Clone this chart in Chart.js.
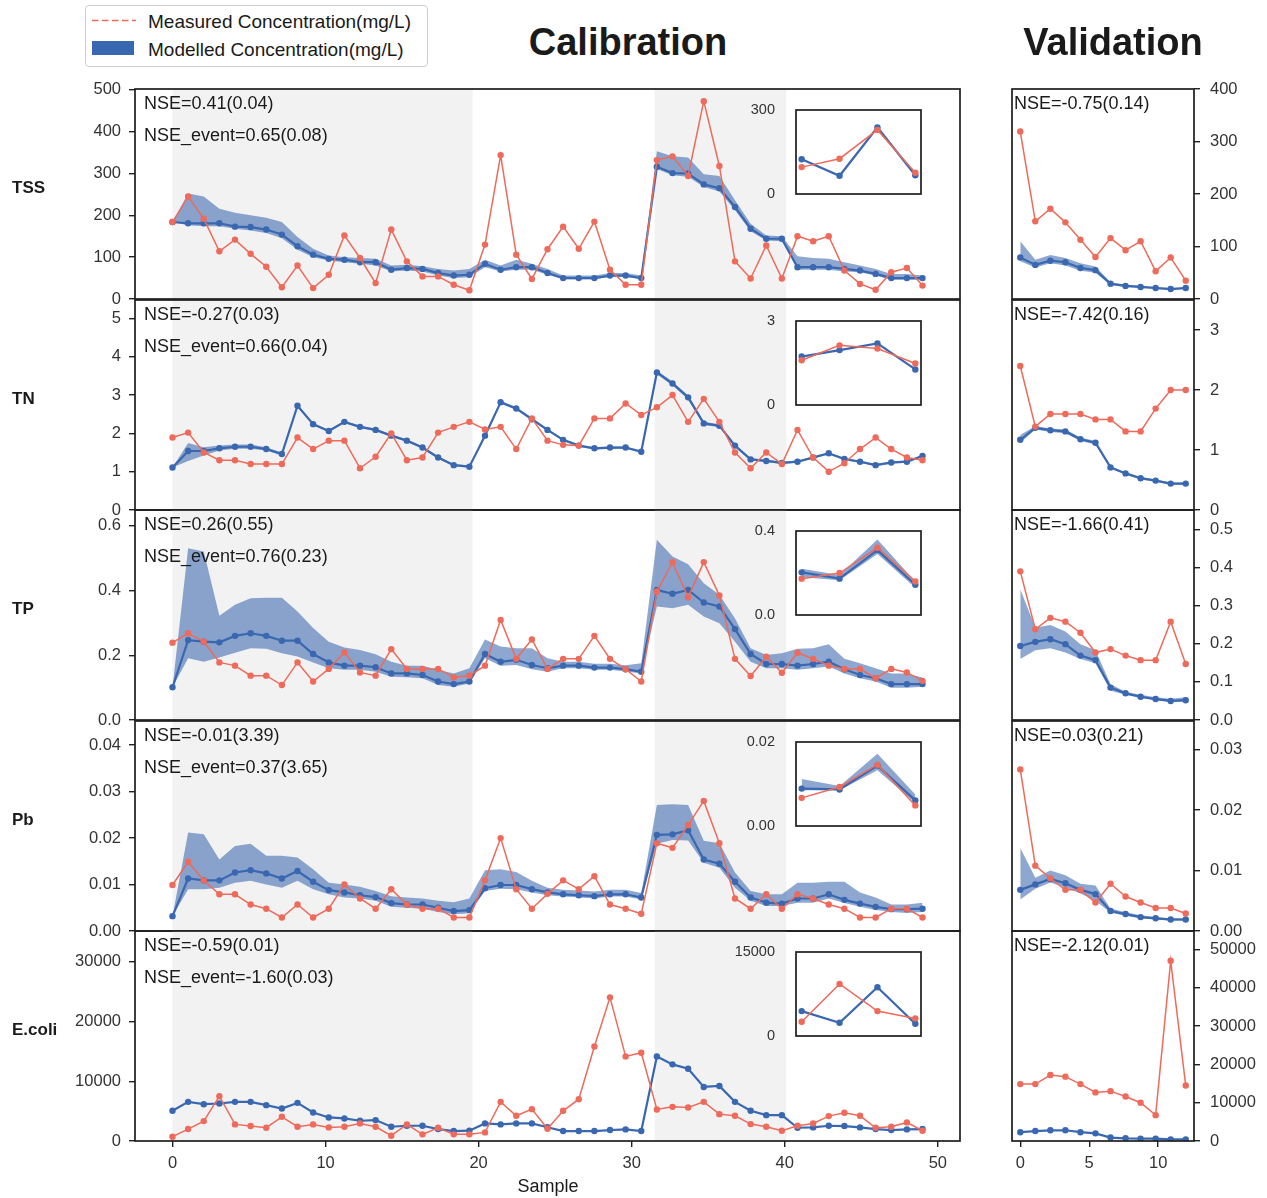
<!DOCTYPE html>
<html lang="en">
<head>
<meta charset="utf-8">
<title>Calibration / Validation</title>
<script src="https://cdn.jsdelivr.net/npm/chart.js@4.4.1/dist/chart.umd.min.js"></script>
<style>
	body { margin: 0; background: #fff; }
	#pagina { position: relative; width: 1267px; height: 1198px; background: #fff; overflow: hidden; font-family: "Liberation Sans", Arial, sans-serif; color: #1a1a1a; }
	#pagina canvas { position: absolute; }
	.texto { position: absolute; white-space: nowrap; line-height: 1; transform: translateY(-50%); }
	.legenda { position: absolute; left: 85px; top: 5px; width: 343px; height: 62px; box-sizing: border-box; border: 1px solid #cfcfcf; border-radius: 4px; background: #fff; }
</style>
</head>
<body>
<div id="pagina"></div>
<script>
// ---- calibration data (49 samples) ----
const tssObs = [184,245,192,114,142,108,77,28,80,26, 58,152,98,38,166,90,54,54,34,21, 130,344,106,48,119, 173,120,185,70,34,34, 332,341,294,473,318,90,49,128,49, 150,138,150,68,36,22,64,74,32]
const tssMod = [184,181,181,181,173,172,166,154,126,106, 96,94,88,88,70,74,72,62,56,58, 84,70,76,76,62, 50,50,50,56,56,50, 316,301,300,274,265,220,168,144,144, 76,76,76,72,68,60,50,50,50]
const tssUp = [184,252,245,216,206,200,194,184,148,120, 104,100,98,96,80,82,78,72,68,72, 94,80,94,84,72, 56,56,56,62,62,56, 353,341,338,298,294,236,180,152,150, 102,98,96,88,80,72,60,60,56]
const tssLo = [184,176,174,174,168,164,158,145,118,100, 92,88,84,80,66,68,66,56,50,52, 76,66,70,70,58, 47,47,47,53,53,47, 311,296,292,268,257,212,162,140,138, 70,70,70,66,64,56,46,46,46]

const tnObs = [1.89,2.02,1.50,1.30,1.30,1.20,1.20,1.20,1.89,1.59, 1.81,1.81,1.09,1.39,2.00,1.30,1.37,2.02,2.17,2.30, 2.10,2.17,1.59,2.39,1.81, 1.70,1.68,2.39,2.39,2.78,2.48, 2.68,3.00,2.30,2.90,2.30,1.50,1.09,1.50,1.20, 2.09,1.37,1.00,1.22,1.59,1.89,1.59,1.37,1.30]
const tnMod = [1.11,1.54,1.54,1.61,1.65,1.65,1.59,1.46,2.72,2.24, 2.06,2.30,2.17,2.09,1.94,1.81,1.63,1.37,1.17,1.13, 1.94,2.81,2.65,2.37,2.09, 1.83,1.68,1.61,1.63,1.63,1.52, 3.59,3.30,2.94,2.26,2.20,1.68,1.32,1.28,1.23, 1.26,1.37,1.48,1.33,1.26,1.17,1.24,1.26,1.41]
const tnUp = [1.11,1.75,1.64,1.68,1.71,1.71,1.64,1.50,2.75,2.27, 2.09,2.33,2.20,2.12,1.97,1.84,1.66,1.40,1.20,1.16, 1.97,2.85,2.69,2.41,2.12, 1.86,1.71,1.64,1.66,1.66,1.55, 3.64,3.35,2.99,2.30,2.24,1.71,1.35,1.31,1.26, 1.29,1.40,1.51,1.36,1.29,1.20,1.27,1.29,1.44]
const tnLo = [1.11,1.28,1.42,1.55,1.60,1.60,1.55,1.42,2.69,2.21, 2.03,2.27,2.14,2.06,1.91,1.78,1.60,1.34,1.14,1.10, 1.91,2.77,2.61,2.33,2.06, 1.80,1.65,1.58,1.60,1.60,1.49, 3.54,3.25,2.89,2.22,2.16,1.65,1.29,1.25,1.20, 1.23,1.34,1.45,1.30,1.23,1.14,1.21,1.23,1.38]

const tpObs = [0.239,0.268,0.242,0.178,0.168,0.137,0.137,0.108,0.178,0.119, 0.158,0.209,0.147,0.137,0.219,0.158,0.158,0.158,0.132,0.137, 0.168,0.309,0.189,0.249,0.158, 0.189,0.189,0.260,0.189,0.157,0.119, 0.397,0.488,0.379,0.488,0.385,0.189,0.136,0.196,0.146, 0.208,0.189,0.168,0.158,0.158,0.129,0.158,0.147,0.121]
const tpMod = [0.101,0.247,0.242,0.240,0.260,0.268,0.260,0.245,0.245,0.204, 0.178,0.168,0.168,0.163,0.144,0.144,0.139,0.119,0.111,0.119, 0.204,0.180,0.186,0.170,0.160, 0.168,0.168,0.162,0.162,0.157,0.149, 0.402,0.390,0.402,0.363,0.351,0.281,0.204,0.173,0.173, 0.168,0.173,0.180,0.157,0.139,0.129,0.111,0.111,0.111]
const tpUp = [0.101,0.531,0.521,0.322,0.356,0.376,0.378,0.378,0.335,0.284, 0.242,0.224,0.216,0.203,0.180,0.168,0.168,0.155,0.144,0.160, 0.249,0.227,0.222,0.222,0.191, 0.180,0.180,0.174,0.174,0.169,0.175, 0.557,0.505,0.481,0.423,0.387,0.314,0.222,0.201,0.206, 0.220,0.222,0.234,0.189,0.175,0.160,0.144,0.144,0.131]
const tpLo = [0.101,0.191,0.180,0.193,0.208,0.222,0.220,0.206,0.196,0.178, 0.160,0.155,0.155,0.149,0.134,0.132,0.129,0.108,0.103,0.113, 0.191,0.168,0.170,0.157,0.149, 0.160,0.160,0.155,0.155,0.150,0.144, 0.351,0.345,0.356,0.320,0.299,0.242,0.180,0.160,0.160, 0.155,0.160,0.165,0.144,0.129,0.119,0.100,0.100,0.103]

const pbObs = [0.0099,0.0149,0.0109,0.0079,0.0079,0.0057,0.0048,0.0029,0.0057,0.0029, 0.0048,0.0100,0.0070,0.0048,0.0090,0.0057,0.0048,0.0048,0.0029,0.0029, 0.0109,0.0200,0.0090,0.0048,0.0080, 0.0109,0.0090,0.0118,0.0057,0.0048,0.0037, 0.0189,0.0179,0.0228,0.0280,0.0189,0.0070,0.0048,0.0079,0.0048, 0.0079,0.0070,0.0057,0.0048,0.0029,0.0029,0.0048,0.0048,0.0029]
const pbMod = [0.0032,0.0113,0.0109,0.0109,0.0126,0.0131,0.0124,0.0113,0.0129,0.0106, 0.0088,0.0083,0.0077,0.0073,0.0060,0.0057,0.0057,0.0050,0.0043,0.0045, 0.0092,0.0099,0.0099,0.0090,0.0083, 0.0079,0.0077,0.0075,0.0079,0.0079,0.0072, 0.0207,0.0208,0.0217,0.0154,0.0145,0.0106,0.0072,0.0061,0.0059, 0.0070,0.0070,0.0079,0.0067,0.0059,0.0052,0.0047,0.0047,0.0048]
const pbUp = [0.0032,0.0212,0.0208,0.0154,0.0183,0.0188,0.0162,0.0162,0.0158,0.0133, 0.0104,0.0100,0.0095,0.0086,0.0075,0.0072,0.0070,0.0065,0.0062,0.0070, 0.0131,0.0133,0.0127,0.0108,0.0093, 0.0089,0.0087,0.0085,0.0089,0.0089,0.0082, 0.0271,0.0273,0.0271,0.0194,0.0189,0.0126,0.0086,0.0079,0.0079, 0.0104,0.0104,0.0106,0.0106,0.0083,0.0072,0.0057,0.0057,0.0061]
const pbLo = [0.0032,0.0090,0.0090,0.0093,0.0104,0.0108,0.0100,0.0093,0.0108,0.0090, 0.0079,0.0072,0.0070,0.0065,0.0052,0.0050,0.0048,0.0041,0.0036,0.0038, 0.0086,0.0091,0.0090,0.0083,0.0077, 0.0074,0.0072,0.0070,0.0074,0.0074,0.0068, 0.0188,0.0196,0.0195,0.0147,0.0136,0.0093,0.0065,0.0054,0.0054, 0.0061,0.0061,0.0070,0.0060,0.0052,0.0045,0.0041,0.0039,0.0041]

const ecoliObs = [722,2000,3333,7500,2778,2500,2222,4056,2389,2778, 2278,2389,2944,2389,889,2778,1111,2222,1111,1111, 1444,6556,4222,5333,2056, 5056,7000,15833,24056,14167,14778, 5278,5722,5611,6556,4500,4222,2833,2389,1722, 2556,2944,4167,4722,4222,2222,2389,3111,1722]
const ecoliMod = [5056,6556,6167,6278,6556,6556,6000,5444,6389,4778, 3944,3778,3389,3500,2389,2556,2556,2000,1667,1722, 2944,2778,2944,2944,2300, 1667,1667,1667,1833,1944,1667, 14167,12833,12111,9056,9222,6556,5056,4333,4333, 2222,2278,2556,2500,2278,2000,1833,1944,2000]

// ---- event insets (4 events) ----
const tssInsObs = [96,126,229,76]
const tssInsMod = [124,65,238,67]
const tnInsObs = [1.60,2.13,2.02,1.48]
const tnInsMod = [1.73,1.96,2.20,1.27]
const tpInsObs = [0.173,0.200,0.320,0.160]
const tpInsMod = [0.203,0.173,0.309,0.144]
const tpInsUp = [0.220,0.190,0.360,0.160]
const tpInsLo = [0.180,0.165,0.290,0.130]
const pbInsObs = [0.0067,0.0093,0.0146,0.0049]
const pbInsMod = [0.0089,0.0087,0.0144,0.0061]
const pbInsUp = [0.0112,0.0095,0.0172,0.0075]
const pbInsLo = [0.0085,0.0085,0.0133,0.0055]
const ecoliInsObs = [2549,9308,4447,3142]
const ecoliInsMod = [4447,2372,8715,2194]

// ---- validation data (12 samples) ----
const tssValObs = [319,148,172,146,113,80,116,93,110,53,79,35]
const tssValMod = [79,65,73,70,59,55,29,25,23,21,19,21]
const tssValUp = [110,75,84,78,68,62,32,27,25,23,21,23]
const tssValLo = [72,60,68,64,54,50,26,23,21,19,17,19]
const tnValObs = [2.40,1.39,1.60,1.60,1.60,1.51,1.51,1.31,1.31,1.69,2.00,2.00]
const tnValMod = [1.17,1.37,1.33,1.31,1.18,1.12,0.71,0.61,0.53,0.49,0.44,0.44]
const tnValUp = [1.25,1.40,1.36,1.34,1.21,1.15,0.73,0.63,0.55,0.51,0.46,0.46]
const tnValLo = [1.12,1.34,1.30,1.28,1.15,1.09,0.69,0.59,0.51,0.47,0.42,0.42]
const tpValObs = [0.390,0.238,0.268,0.258,0.229,0.177,0.186,0.169,0.157,0.157,0.258,0.147]
const tpValMod = [0.194,0.205,0.212,0.199,0.169,0.157,0.085,0.070,0.061,0.055,0.050,0.052]
const tpValUp = [0.343,0.243,0.249,0.232,0.199,0.183,0.094,0.074,0.066,0.060,0.056,0.060]
const tpValLo = [0.160,0.183,0.188,0.177,0.160,0.149,0.077,0.066,0.058,0.052,0.047,0.048]
const pbValObs = [0.0267,0.0108,0.0087,0.0068,0.0068,0.0047,0.0078,0.0057,0.0047,0.0038,0.0038,0.0029]
const pbValMod = [0.0068,0.0077,0.0086,0.0079,0.0068,0.0061,0.0033,0.0028,0.0023,0.0021,0.0019,0.0019]
const pbValUp = [0.0137,0.0088,0.0100,0.0092,0.0078,0.0075,0.0037,0.0031,0.0026,0.0023,0.0021,0.0021]
const pbValLo = [0.0052,0.0070,0.0080,0.0072,0.0062,0.0050,0.0030,0.0025,0.0021,0.0019,0.0017,0.0017]
const ecoliValObs = [14865,14865,17243,16811,14865,12703,13027,11622,10000,6757,47081,14500]
const ecoliValMod = [2300,2600,2800,2800,2300,2000,900,700,600,600,400,400]

// ---- ticks and labels ----
const nomes = ["TSS", "TN", "TP", "Pb", "E.coli"]
const calTicks = [[0,100,200,300,400,500], [0,1,2,3,4,5], [0,0.2,0.4,0.6], [0,0.01,0.02,0.03,0.04], [0,10000,20000,30000]]
const valTicks = [[0,100,200,300,400], [0,1,2,3], [0,0.1,0.2,0.3,0.4,0.5], [0,0.01,0.02,0.03], [0,10000,20000,30000,40000,50000]]
const insTicks = [[0,300], [0,3], [0,0.4], [0,0.02], [0,15000]]
const calTicksX = [0,10,20,30,40,50]
const valTicksX = [0,5,10]
const nseCal = ["NSE=0.41(0.04)", "NSE=-0.27(0.03)", "NSE=0.26(0.55)", "NSE=-0.01(3.39)", "NSE=-0.59(0.01)"]
const nseEvento = ["NSE_event=0.65(0.08)", "NSE_event=0.66(0.04)", "NSE_event=0.76(0.23)", "NSE_event=0.37(3.65)", "NSE_event=-1.60(0.03)"]
const nseVal = ["NSE=-0.75(0.14)", "NSE=-7.42(0.16)", "NSE=-1.66(0.41)", "NSE=0.03(0.21)", "NSE=-2.12(0.01)"]

const AZUL = "#3a68b0"
const VERMELHO = "#ee6a5b"
const FAIXA = "rgba(58, 104, 176, 0.58)"
const CINZA = "#f2f2f2"

Chart.defaults.font.family = '"Liberation Sans", Arial, sans-serif'
Chart.defaults.color = "#333"

var pagina = document.getElementById("pagina")

var topos = [89, 299.5, 510, 720.5, 931]
var ALTURA = 210

var calMax = [502, 5.48, 0.649, 0.0452, 35170]
var valMax = [400, 3.5, 0.551, 0.0347, 54870]
var fmt = [
	v => String(v),
	v => String(v),
	v => v.toFixed(1),
	v => v.toFixed(2),
	v => String(v),
]

var xCal = tssObs.map((v, i) => i * 49 / 48)
var xVal = tssValObs.map((v, i) => i * 12 / 11)
var xIns = [0, 1, 2, 3]

function texto(conteudo, x, y, tamanho, negrito, centro) {
	var el = document.createElement("div")
	el.className = "texto"
	el.textContent = conteudo
	el.style.left = x + "px"
	el.style.top = y + "px"
	el.style.fontSize = tamanho + "px"
	if (negrito) el.style.fontWeight = "bold"
	if (centro) el.style.transform = "translate(-50%, -50%)"
	pagina.appendChild(el)
	return el
}

function pontos(xs, ys) {
	return ys.map((v, i) => ({ x: xs[i], y: v }))
}

function series(xs, obs, mod, up, lo, raio) {
	var sets = [
		{ data: pontos(xs, obs), borderColor: VERMELHO, backgroundColor: VERMELHO, borderWidth: 1.5, pointRadius: raio, pointBorderWidth: 0, order: 0 },
		{ data: pontos(xs, mod), borderColor: AZUL, backgroundColor: AZUL, borderWidth: 2.2, pointRadius: raio, pointBorderWidth: 0, order: 1 },
	]
	if (up) {
		sets.push({ data: pontos(xs, up), borderColor: "transparent", borderWidth: 0, pointRadius: 0, fill: "+1", backgroundColor: FAIXA, order: 2 })
		sets.push({ data: pontos(xs, lo), borderColor: "transparent", borderWidth: 0, pointRadius: 0, fill: false, order: 3 })
	}
	return sets
}

function fundoPlugin(faixas, branco) {
	return {
		id: "fundo",
		beforeDatasetsDraw(chart) {
			var ctx = chart.ctx, a = chart.chartArea, sx = chart.scales.x
			ctx.save()
			if (branco) {
				ctx.fillStyle = "#fff"
				ctx.fillRect(a.left, a.top, a.right - a.left, a.bottom - a.top)
			}
			ctx.fillStyle = CINZA
			for (const f of faixas) {
				var x1 = sx.getPixelForValue(f[0])
				var x2 = sx.getPixelForValue(f[1])
				ctx.fillRect(x1, a.top, x2 - x1, a.bottom - a.top)
			}
			ctx.restore()
		}
	}
}

var molduraPlugin = {
	id: "moldura",
	afterDraw(chart) {
		var ctx = chart.ctx, a = chart.chartArea
		ctx.save()
		ctx.strokeStyle = "#1e1e1e"
		ctx.lineWidth = 1.7
		ctx.strokeRect(a.left, a.top, a.right - a.left, a.bottom - a.top)
		ctx.restore()
	}
}

function eixo(cfg) {
	return {
		type: "linear",
		display: cfg.mostrar,
		position: cfg.pos,
		min: cfg.min,
		max: cfg.max,
		afterBuildTicks: ax => { ax.ticks = cfg.ticks.map(v => ({ value: v })) },
		afterFit: ax => {
			// fixed size, and no extra room for labels hanging over the ends
			ax.paddingTop = 0
			ax.paddingBottom = 0
			ax.paddingLeft = 0
			ax.paddingRight = 0
			if (!cfg.mostrar) return
			if (cfg.pos == "left" || cfg.pos == "right") ax.width = cfg.tam
			else ax.height = cfg.tam
		},
		ticks: { callback: cfg.fmt, font: { size: cfg.fonte }, color: "#333", padding: cfg.pad, autoSkip: false, maxRotation: 0 },
		grid: { display: cfg.marcas, drawOnChartArea: false, drawTicks: true, tickLength: 6, color: "#222", lineWidth: 1.4 },
		border: { display: false },
	}
}

function grafico(cfg) {
	var canvas = document.createElement("canvas")
	canvas.width = cfg.w
	canvas.height = cfg.h
	canvas.style.left = cfg.left + "px"
	canvas.style.top = cfg.top + "px"
	canvas.style.width = cfg.w + "px"
	canvas.style.height = cfg.h + "px"
	pagina.appendChild(canvas)
	return new Chart(canvas, {
		type: "line",
		data: { datasets: cfg.datasets },
		options: {
			responsive: false,
			animation: false,
			devicePixelRatio: 1,
			events: [],
			layout: { padding: cfg.padding },
			plugins: { legend: { display: false }, tooltip: { enabled: false } },
			scales: { x: cfg.x, y: cfg.y },
		},
		plugins: [fundoPlugin(cfg.faixas, cfg.branco), molduraPlugin],
	})
}

var calDados = [
	[tssObs, tssMod, tssUp, tssLo],
	[tnObs, tnMod, tnUp, tnLo],
	[tpObs, tpMod, tpUp, tpLo],
	[pbObs, pbMod, pbUp, pbLo],
	[ecoliObs, ecoliMod, null, null],
]
var valDados = [
	[tssValObs, tssValMod, tssValUp, tssValLo],
	[tnValObs, tnValMod, tnValUp, tnValLo],
	[tpValObs, tpValMod, tpValUp, tpValLo],
	[pbValObs, pbValMod, pbValUp, pbValLo],
	[ecoliValObs, ecoliValMod, null, null],
]
var insDados = [
	[tssInsObs, tssInsMod, null, null],
	[tnInsObs, tnInsMod, null, null],
	[tpInsObs, tpInsMod, tpInsUp, tpInsLo],
	[pbInsObs, pbInsMod, pbInsUp, pbInsLo],
	[ecoliInsObs, ecoliInsMod, null, null],
]

for (let r = 0; r < 5; r++) {
	var topo = topos[r]
	var ultimo = r == 4

	// calibration panel
	var d = calDados[r]
	grafico({
		left: 0, top: topo - 15, w: 975, h: ALTURA + 15 + (ultimo ? 45 : 15),
		padding: { left: 0, right: 15, top: 15, bottom: ultimo ? 0 : 15 },
		datasets: series(xCal, d[0], d[1], d[2], d[3], 3.2),
		faixas: [[0, 19.6], [31.5, 40.1]],
		x: eixo({ mostrar: ultimo, pos: "bottom", min: -2.45, max: 51.45, ticks: calTicksX, fmt: v => String(v), fonte: 16.5, pad: 7, tam: 45, marcas: true }),
		y: eixo({ mostrar: true, pos: "left", min: 0, max: calMax[r], ticks: calTicks[r], fmt: fmt[r], fonte: 16.5, pad: 8, tam: 135, marcas: true }),
	})

	// validation panel
	var v = valDados[r]
	grafico({
		left: 1000, top: topo - 15, w: 267, h: ALTURA + 15 + (ultimo ? 45 : 15),
		padding: { left: 12, right: 0, top: 15, bottom: ultimo ? 0 : 15 },
		datasets: series(xVal, v[0], v[1], v[2], v[3], 3.2),
		faixas: [],
		x: eixo({ mostrar: ultimo, pos: "bottom", min: -0.6, max: 12.6, ticks: valTicksX, fmt: v => String(v), fonte: 16.5, pad: 7, tam: 45, marcas: true }),
		y: eixo({ mostrar: true, pos: "right", min: 0, max: valMax[r], ticks: valTicks[r], fmt: fmt[r], fonte: 16.5, pad: 10, tam: 73, marcas: true }),
	})

	// event inset
	var e = insDados[r]
	grafico({
		left: 700, top: topo + 21 - 12, w: 225, h: 84 + 24,
		padding: { left: 0, right: 4, top: 12, bottom: 12 },
		datasets: series(xIns, e[0], e[1], e[2], e[3], 3.2),
		faixas: [],
		branco: true,
		x: eixo({ mostrar: false, pos: "bottom", min: -0.15, max: 3.15, ticks: [0, 1, 2, 3], fmt: v => String(v), fonte: 14, pad: 4, tam: 0, marcas: false }),
		y: eixo({ mostrar: true, pos: "left", min: insTicks[r][0], max: insTicks[r][1], ticks: insTicks[r], fmt: fmt[r], fonte: 14.5, pad: 15, tam: 96, marcas: false }),
	})

	// labels
	texto(nomes[r], 12, topo + ALTURA / 2 - 7, 17, true)
	texto(nseCal[r], 144, topo + 14, 18)
	texto(nseEvento[r], 144, topo + 46, 18)
	texto(nseVal[r], 1014, topo + 14, 18)
}

texto("Sample", 548, 1186, 18, false, true)
texto("Calibration", 628, 42, 38, true, true)
texto("Validation", 1113, 42, 38, true, true)

// legend
var leg = document.createElement("div")
leg.className = "legenda"
pagina.appendChild(leg)
var svgNS = "http://www.w3.org/2000/svg"
var svg = document.createElementNS(svgNS, "svg")
svg.setAttribute("width", "440")
svg.setAttribute("height", "70")
svg.style.position = "absolute"
svg.style.left = "0px"
svg.style.top = "0px"
var linha = document.createElementNS(svgNS, "line")
linha.setAttribute("x1", "92"); linha.setAttribute("y1", "20.5")
linha.setAttribute("x2", "136"); linha.setAttribute("y2", "20.5")
linha.setAttribute("stroke", VERMELHO); linha.setAttribute("stroke-width", "1.7")
linha.setAttribute("stroke-dasharray", "6.5 3.5")
svg.appendChild(linha)
var caixa = document.createElementNS(svgNS, "rect")
caixa.setAttribute("x", "92"); caixa.setAttribute("y", "41")
caixa.setAttribute("width", "42"); caixa.setAttribute("height", "14")
caixa.setAttribute("fill", AZUL)
svg.appendChild(caixa)
pagina.appendChild(svg)
texto("Measured Concentration(mg/L)", 148, 21, 19)
texto("Modelled Concentration(mg/L)", 148, 49, 19)
</script>
</body>
</html>
